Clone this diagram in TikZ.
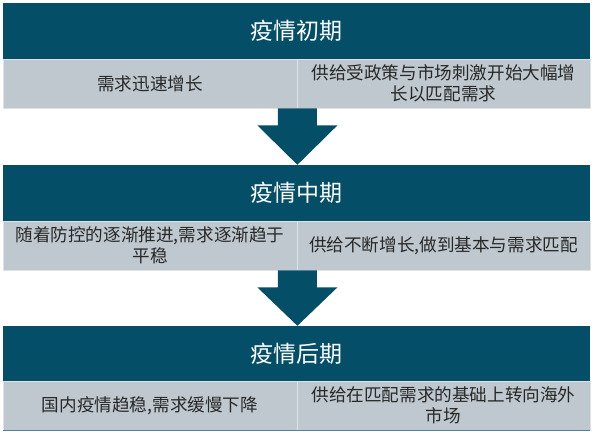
\documentclass[tikz,border=0pt]{standalone}
\usepackage{fontspec}
\setmainfont{Noto Sans CJK SC}
\usetikzlibrary{calc}
\definecolor{teal}{RGB}{4,79,103}
\definecolor{cellgray}{RGB}{190,200,206}
\definecolor{celltext}{RGB}{40,40,40}
\definecolor{cellline}{RGB}{220,226,230}
\begin{document}
\begin{tikzpicture}[x=1pt,y=-1pt,
  header/.style={fill=teal,text=white,minimum width=587pt,minimum height=56pt,inner sep=0pt,font=\fontsize{23}{26}\selectfont},
  cell/.style={fill=cellgray,draw=cellline,line width=0.8pt,text=celltext,minimum height=49pt,inner sep=0pt,align=center,font=\fontsize{17.6}{20.5}\selectfont},
  leftcell/.style={cell,minimum width=294pt},
  rightcell/.style={cell,minimum width=293pt},
  blockarrow/.style={fill=teal}]
\useasboundingbox (0,0) rectangle (600,441);
% stage 1
\node[header] (h1) at (296.5,31) {疫情初期};
\node[leftcell] (c1l) at (150,83.5) {需求迅速增长};
\node[rightcell] (c1r) at (443.5,83.5) {供给受政策与市场刺激开始大幅增\\长以匹配需求};
% stage 2
\node[header] (h2) at (296.5,193) {疫情中期};
\node[leftcell] (c2l) at (150,245.5) {随着防控的逐渐推进,需求逐渐趋于\\平稳};
\node[rightcell] (c2r) at (443.5,245.5) {供给不断增长,做到基本与需求匹配};
% stage 3
\node[header,minimum height=55pt] (h3) at (296.5,353.5) {疫情后期};
\node[leftcell] (c3l) at (150,405.5) {国内疫情趋稳,需求缓慢下降};
\node[rightcell] (c3r) at (443.5,405.5) {供给在匹配需求的基础上转向海外\\市场};
\draw[teal!70!white,line width=1pt] (c3l.south west) -- (c3r.south east);
% arrows
\coordinate (a1s) at (c1l.south east);
\coordinate (a1t) at (h2.north -| a1s);
\fill[blockarrow] ($(a1s)+(-19.5,0)$) -- ($(a1s)+(19.5,0)$) -- ($(a1s)+(19.5,17)$) -- ($(a1s)+(40,17)$)
  -- (a1t) -- ($(a1s)+(-40,17)$) -- ($(a1s)+(-19.5,17)$) -- cycle;
\coordinate (a2s) at (c2l.south east);
\coordinate (a2t) at (h3.north -| a2s);
\fill[blockarrow] ($(a2s)+(-19.5,0)$) -- ($(a2s)+(19.5,0)$) -- ($(a2s)+(19.5,17)$) -- ($(a2s)+(40,17)$)
  -- (a2t) -- ($(a2s)+(-40,17)$) -- ($(a2s)+(-19.5,17)$) -- cycle;
\end{tikzpicture}
\end{document}
